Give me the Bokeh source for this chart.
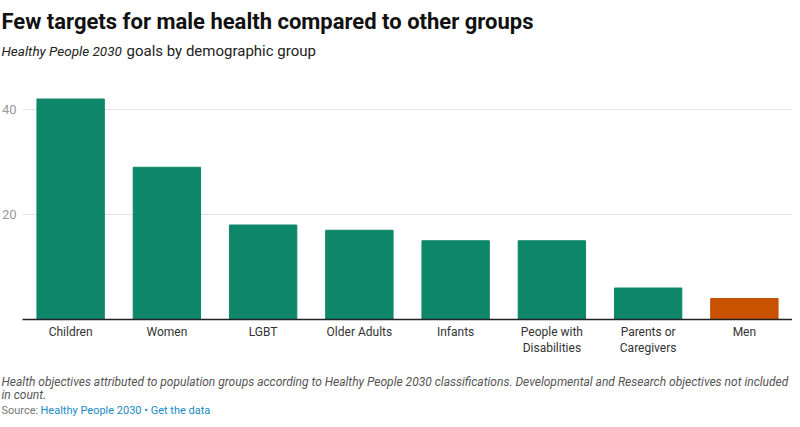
from bokeh.plotting import figure
from bokeh.models import ColumnDataSource, Label, Range1d
from bokeh.core.properties import value
from bokeh.embed import file_html
from bokeh.resources import INLINE

# ---- data ----
categories = ["Children", "Women", "LGBT", "Older Adults", "Infants",
              "People with\nDisabilities", "Parents or\nCaregivers", "Men"]
values = [42, 29, 18, 17, 15, 15, 6, 4]
bar_colors = ["#0e866a"] * 7 + ["#c85200"]
y_ticks = [20, 40]

title_text = "Few targets for male health compared to other groups"
subtitle_italic = "Healthy People 2030"
subtitle_rest = "goals by demographic group"
note_line1 = ("Health objectives attributed to population groups according to Healthy People 2030 "
              "classifications. Developmental and Research objectives not included")
note_line2 = "in count."
source_label = "Source:"
source_links = "Healthy People 2030 \u2022 Get the data"

# ---- layout (the frame covers the whole canvas) ----
W, H = 792, 419
LEFT_PX = 22.0
BAND_PX = (W - LEFT_PX) / len(categories)   # width of one category band in pixels
FIRST_CENTER_PX = LEFT_PX + BAND_PX / 2      # pixel x of the first band centre
ZERO_PX = 319.0                              # pixel y of the value 0
UNIT_PX = 5.25                               # pixels per unit of value

x_start = -FIRST_CENTER_PX / BAND_PX
x_end = (W - FIRST_CENTER_PX) / BAND_PX
y_start = -(H - ZERO_PX) / UNIT_PX
y_end = ZERO_PX / UNIT_PX

xs = list(range(len(categories)))
src = ColumnDataSource(dict(x=xs, cat=categories, val=values, color=bar_colors))

p = figure(width=W, height=H,
           x_range=Range1d(x_start, x_end), y_range=Range1d(y_start, y_end),
           output_backend="svg", toolbar_location=None,
           min_border=0, min_border_left=0, min_border_right=0,
           min_border_top=0, min_border_bottom=0)
p.title.visible = False
p.xaxis.visible = False
p.yaxis.visible = False
p.xgrid.visible = False
p.ygrid.visible = False
p.outline_line_color = None

FONT = "Roboto"
band_lo = -0.5
band_hi = len(categories) - 0.5

# gridlines
p.segment(x0=[band_lo] * len(y_ticks), x1=[band_hi] * len(y_ticks),
          y0=y_ticks, y1=y_ticks, line_color="#e3e3e3", line_width=1)

# bars
p.vbar(x="x", top="val", bottom=0, width=0.7, color="color", source=src)

# baseline
p.segment(x0=[band_lo], x1=[band_hi], y0=[0], y1=[0], line_color="#222222", line_width=1.3)

# y tick labels
p.text(x=[band_lo] * len(y_ticks), y=y_ticks, text=[str(t) for t in y_ticks],
       x_offset=-6, text_align="right", text_baseline="middle",
       text_font=value(FONT), text_font_size="13px", text_color="#9a9a9a")

# category labels
p.text(x="x", y=0, text="cat", source=src, y_offset=5,
       text_align="center", text_baseline="top", text_line_height=1.17,
       text_font=value(FONT), text_font_size="12px", text_color="#333333")


def lab(text, px, py, size, color="#222222", style="normal"):
    p.add_layout(Label(x=px, y=H - py, x_units="screen", y_units="screen",
                       text=text, text_align="left", text_baseline="alphabetic",
                       text_font=FONT, text_font_size=size, text_color=color,
                       text_font_style=style))


lab(title_text, 1, 21, "22px", color="#111111", style="bold")
lab(subtitle_italic, 1, 50, "13.5px", color="#222222", style="italic")
lab(subtitle_rest, 126, 50, "15px", color="#222222")
lab(note_line1, 1, 381, "12px", color="#555555", style="italic")
lab(note_line2, 1, 394, "12px", color="#555555", style="italic")
lab(source_label, 1, 410, "11px", color="#777777")
lab(source_links, 40, 410, "11px", color="#1a8bc4")

open("out.html", "w").write(file_html(p, INLINE))
